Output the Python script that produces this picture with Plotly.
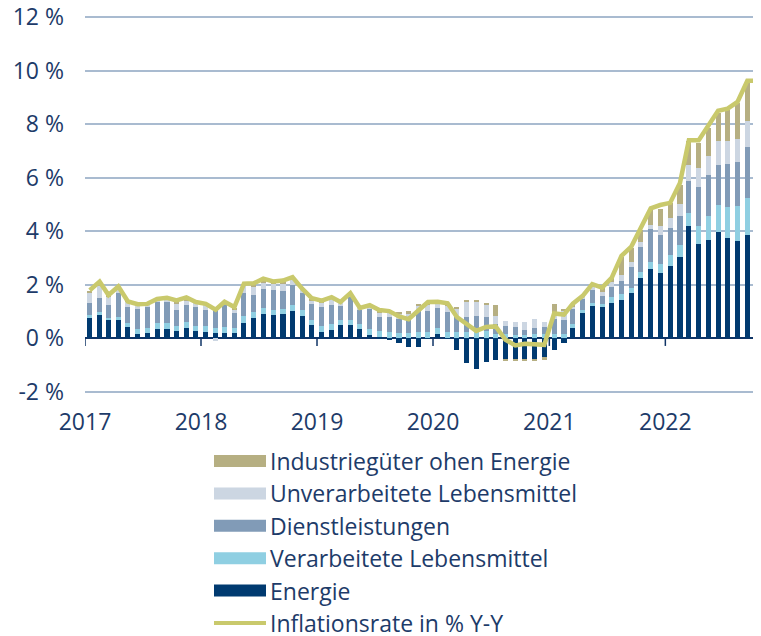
import pandas as pd
import plotly.graph_objects as go

# ---------------------------------------------------------------
# Daten: Beiträge zur Inflationsrate (Prozentpunkte), Jan 2017 - Okt 2022
# ---------------------------------------------------------------
months = pd.date_range("2017-01-01", periods=70, freq="MS") + pd.Timedelta(days=15)

energie = [
    0.77, 0.87, 0.68, 0.70, 0.43, 0.18, 0.20, 0.35, 0.34, 0.26, 0.40, 0.26,
    0.24, 0.20, 0.20, 0.20, 0.58, 0.76, 0.90, 0.86, 0.90, 1.02, 0.84, 0.49,
    0.24, 0.33, 0.49, 0.49, 0.34, 0.14, 0.05, -0.07, -0.17, -0.31, -0.31, 0.02,
    0.18, -0.02, -0.43, -0.93, -1.14, -0.89, -0.80, -0.77, -0.80, -0.77, -0.75, -0.70,
    -0.43, -0.18, 0.39, 0.96, 1.22, 1.17, 1.34, 1.45, 1.68, 2.24, 2.60, 2.44,
    2.71, 3.03, 4.20, 3.54, 3.69, 3.98, 3.75, 3.64, 3.85, 3.85,
]
verarb_lebensmittel = [
    0.12, 0.10, 0.10, 0.10, 0.15, 0.18, 0.19, 0.23, 0.25, 0.19, 0.21, 0.19,
    0.21, 0.20, 0.22, 0.20, 0.26, 0.23, 0.24, 0.21, 0.21, 0.24, 0.24, 0.21,
    0.23, 0.22, 0.19, 0.21, 0.21, 0.22, 0.21, 0.24, 0.20, 0.20, 0.24, 0.22,
    0.22, 0.24, 0.24, 0.25, 0.25, 0.26, 0.17, 0.17, 0.11, 0.11, 0.17, 0.17,
    0.17, 0.15, 0.14, 0.12, 0.10, 0.13, 0.19, 0.20, 0.22, 0.25, 0.26, 0.35,
    0.40, 0.44, 0.49, 0.66, 0.88, 1.00, 1.14, 1.30, 1.41, 1.41,
]
dienstleistungen = [
    0.45, 0.55, 0.47, 0.88, 0.60, 0.75, 0.79, 0.78, 0.77, 0.60, 0.63, 0.73,
    0.63, 0.72, 0.81, 0.55, 0.84, 0.62, 0.70, 0.73, 0.66, 0.72, 0.62, 0.60,
    0.71, 0.69, 0.52, 0.85, 0.50, 0.75, 0.54, 0.56, 0.54, 0.50, 0.79, 0.79,
    0.72, 0.75, 0.55, 0.55, 0.59, 0.54, 0.37, 0.28, 0.31, 0.21, 0.21, 0.25,
    0.56, 0.53, 0.56, 0.40, 0.50, 0.29, 0.40, 0.49, 0.75, 0.91, 1.23, 1.06,
    1.00, 1.11, 1.20, 1.46, 1.54, 1.50, 1.63, 1.66, 1.88, 1.88,
]
unverarb_lebensmittel = [
    0.36, 0.45, 0.30, 0.20, 0.20, 0.15, 0.08, 0.07, 0.13, 0.25, 0.16, 0.19,
    0.22, -0.10, 0.12, 0.12, 0.30, 0.30, 0.24, 0.25, 0.28, 0.25, 0.16, 0.13,
    0.13, 0.25, 0.16, 0.15, 0.12, 0.12, 0.15, 0.15, 0.19, 0.22, 0.17, 0.21,
    0.20, 0.22, 0.32, 0.56, 0.52, 0.46, 0.28, 0.20, 0.19, 0.31, 0.33, 0.20,
    0.19, 0.35, 0.10, 0.10, 0.16, 0.15, 0.16, 0.22, 0.21, 0.21, 0.14, 0.35,
    0.38, 0.45, 0.59, 0.69, 0.69, 0.88, 0.86, 0.85, 0.99, 0.99,
]
industriegueter = [
    0.05, 0.10, 0.05, 0.05, 0.02, 0.04, 0.04, 0.05, 0.02, 0.10, 0.12, 0.00,
    0.00, 0.05, 0.02, 0.05, 0.05, 0.15, 0.15, 0.08, 0.10, 0.06, 0.00, 0.05,
    0.08, 0.04, 0.00, 0.00, 0.00, 0.03, 0.08, 0.10, 0.06, 0.09, 0.10, 0.10,
    0.05, 0.10, 0.08, 0.09, 0.06, 0.06, 0.41, -0.05, -0.05, -0.06, -0.10, -0.12,
    0.38, 0.05, 0.10, 0.00, 0.05, 0.18, 0.15, 0.69, 0.50, 0.44, 0.58, 0.65,
    0.56, 0.71, 0.88, 0.96, 1.06, 1.06, 1.16, 1.34, 1.47, 1.47,
]
inflationsrate = [
    1.80, 2.12, 1.62, 1.94, 1.38, 1.28, 1.29, 1.47, 1.52, 1.42, 1.53, 1.36,
    1.29, 1.07, 1.37, 1.17, 2.04, 2.06, 2.23, 2.13, 2.16, 2.29, 1.85, 1.50,
    1.41, 1.54, 1.36, 1.69, 1.14, 1.24, 1.06, 1.02, 0.82, 0.72, 1.04, 1.36,
    1.37, 1.31, 0.80, 0.53, 0.28, 0.43, 0.45, -0.05, -0.26, -0.20, -0.20, -0.24,
    0.93, 0.89, 1.30, 1.59, 2.03, 1.90, 2.26, 3.08, 3.43, 4.09, 4.86, 4.98,
    5.06, 5.80, 7.40, 7.40, 7.96, 8.50, 8.58, 8.83, 9.62, 9.62,
]

years = [2017, 2018, 2019, 2020, 2021, 2022]
y_ticks = [-2, 0, 2, 4, 6, 8, 10, 12]

# Stapelreihenfolge von unten nach oben
bar_series = [
    ("Energie", energie, "#003a70"),
    ("Verarbeitete Lebensmittel", verarb_lebensmittel, "#8fcfe2"),
    ("Dienstleistungen", dienstleistungen, "#819bb7"),
    ("Unverarbeitete Lebensmittel", unverarb_lebensmittel, "#ccd6e2"),
    ("Industriegüter ohen Energie", industriegueter, "#b6af82"),
]
line_name = "Inflationsrate in % Y-Y"
line_color = "#c9c96c"

text_color = "#1d3b69"
font_family = "'Open Sans', Lato, sans-serif"
font_size = 23

# die Seite hat 8px Rand (body margin) -> Figur entsprechend kleiner
PAGE_OFF = 8
W, H = 761 - PAGE_OFF, 636 - PAGE_OFF
ML, MR, MT, MB = 85 - PAGE_OFF, 0, 15 - PAGE_OFF, 242
plot_w = W - ML - MR
plot_h = H - MT - MB
# 2 px Luft oben/unten, damit die Gitterlinien bei 12 % und -2 % gezeichnet werden
pad = 2 * 14 / (375)
y_range = [-2 - pad, 12 + pad]


def px_x(x):
    # Pixel im Fenster -> paper-Koordinate
    return (x - PAGE_OFF - ML) / plot_w


def px_y(y):
    return (H - MB - (y - PAGE_OFF)) / plot_h


fig = go.Figure()

for name, vals, color in bar_series:
    fig.add_trace(go.Bar(
        x=months, y=vals, name=name,
        marker=dict(color=color, line=dict(width=0)),
        width=16 * 86400000,
        showlegend=False,
    ))

fig.add_trace(go.Scatter(
    x=months, y=inflationsrate, name=line_name, mode="lines",
    line=dict(color=line_color, width=4.5),
    showlegend=False,
))

shapes = []
# Jahresmarken an der Nulllinie
for yr in years:
    shapes.append(dict(
        type="line", xref="x", yref="y",
        x0=f"{yr}-01-01", x1=f"{yr}-01-01", y0=0, y1=-0.28,
        line=dict(color="#0f3466", width=1.5),
    ))

# Legende (manuell, breite Farbfelder)
legend_items = [(n, c, "bar") for n, _, c in reversed(bar_series)] + [(line_name, line_color, "line")]
leg_y0, leg_dy = 461, 32.4
annotations = []
for k, (name, color, kind) in enumerate(legend_items):
    yc = leg_y0 + k * leg_dy
    if kind == "bar":
        shapes.append(dict(
            type="rect", xref="paper", yref="paper",
            x0=px_x(214), x1=px_x(266), y0=px_y(yc - 6), y1=px_y(yc + 6),
            fillcolor=color, line=dict(width=0),
        ))
    else:
        shapes.append(dict(
            type="line", xref="paper", yref="paper",
            x0=px_x(214), x1=px_x(266), y0=px_y(yc), y1=px_y(yc),
            line=dict(color=color, width=4),
        ))
    annotations.append(dict(
        xref="paper", yref="paper", x=px_x(268), y=px_y(yc),
        xanchor="left", yanchor="middle", showarrow=False,
        text=name, font=dict(size=font_size, color=text_color, family=font_family),
    ))

fig.update_layout(
    width=W, height=H,
    margin=dict(l=ML, r=MR, t=MT, b=MB, autoexpand=False),
    barmode="relative",
    bargap=0,
    plot_bgcolor="white",
    paper_bgcolor="white",
    font=dict(family=font_family, color=text_color, size=font_size),
    shapes=shapes,
    annotations=annotations,
    showlegend=False,
    xaxis=dict(
        type="date",
        range=["2017-01-01", "2022-10-29"],
        tickvals=[f"{yr}-01-01" for yr in years],
        ticktext=[str(yr) for yr in years],
        showgrid=False, zeroline=False, showline=False,
        ticks="", ticklabelstandoff=12, automargin=False,
        ticklabeloverflow="allow",
        tickfont=dict(size=font_size, color=text_color),
    ),
    yaxis=dict(
        range=y_range,
        tickvals=y_ticks,
        ticktext=[f"{v} %" for v in y_ticks],
        showgrid=True, gridcolor="#a9bbd0", gridwidth=1.5,
        zeroline=True, zerolinecolor="#0f3466", zerolinewidth=2,
        showline=False, ticks="", ticklabelstandoff=20, automargin=False,
        ticklabeloverflow="allow",
        tickfont=dict(size=font_size, color=text_color),
    ),
)

fig.write_html("out.html")
